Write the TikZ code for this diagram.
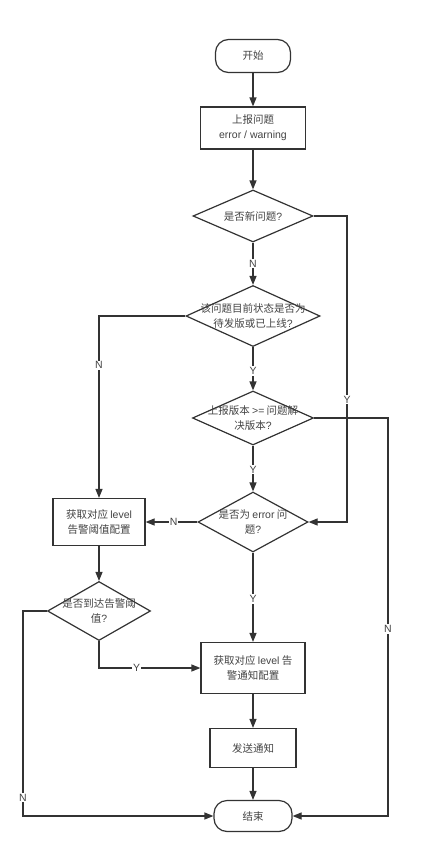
\documentclass[tikz,border=0pt]{standalone}
\usepackage{fontspec}
\newfontfamily\cjk{Noto Sans CJK SC}
\newfontfamily\lat{Liberation Sans}
\usetikzlibrary{shapes.geometric,arrows.meta}
\definecolor{ln}{HTML}{333333}
\definecolor{tx}{HTML}{444444}
\newcommand{\la}[1]{{\lat #1}}
\tikzset{
  base/.style={draw=ln, line width=1.2pt, text=tx, font=\cjk\fontsize{10.5}{15}\selectfont, align=center, inner sep=0pt},
  term/.style={base, rectangle, rounded corners=13pt},
  proc/.style={base, rectangle},
  dec/.style={base, diamond},
  arr/.style={draw=ln, line width=1.2pt, -{Triangle[length=9pt,width=7pt]}},
  lab/.style={fill=white, text=tx, font=\lat\fontsize{10.5}{12}\selectfont, inner sep=1pt},
  dtext/.style={text=tx, font=\cjk\fontsize{10.5}{15}\selectfont, align=center}
}
\begin{document}
\begin{tikzpicture}[x=1pt,y=-1pt]
\useasboundingbox[fill=white] (0,0) rectangle (424,846);
\node[term, minimum width=75pt, minimum height=33pt] (start) at (253,56) {开始};
\node[proc, minimum width=105pt, minimum height=42pt] (report) at (253,128) {上报问题\\\la{error / warning}};
\node[dec, minimum width=120pt, minimum height=52pt, label={[dtext]center:是否新问题\la{?}}] (q1) at (253,216) {};
\node[dec, minimum width=134pt, minimum height=61pt, label={[dtext]center:该问题目前状态是否为\\待发版或已上线\la{?}}] (q2) at (253,316) {};
\node[dec, minimum width=121pt, minimum height=54pt, label={[dtext]center:上报版本 \la{>=} 问题解\\决版本\la{?}}] (q3) at (253,418) {};
\node[dec, minimum width=110pt, minimum height=60pt, label={[dtext]center:是否为 \la{error} 问\\题\la{?}}] (q4) at (253,522) {};
\node[proc, minimum width=92pt, minimum height=47pt] (thr) at (99,522) {获取对应 \la{level}\\告警阈值配置};
\node[dec, minimum width=103pt, minimum height=59pt, label={[dtext]center:是否到达告警阈\\值\la{?}}] (q5) at (99,611) {};
\node[proc, minimum width=104pt, minimum height=51pt] (notif) at (253,668) {获取对应 \la{level} 告\\警通知配置};
\node[proc, minimum width=86pt, minimum height=39pt] (send) at (253,748) {发送通知};
\node[term, minimum width=78pt, minimum height=31pt] (end) at (253,816) {结束};

\draw[arr] (start) -- (report);
\draw[arr] (report) -- (q1);
\draw[arr] (q1.south) -- node[lab]{N} (q2.north);
\draw[arr] (q1.east) -- (347,216) -- node[lab,pos=0.6]{Y} (347,522) -- (q4.east);
\draw[arr] (q2.south) -- node[lab,pos=0.55]{Y} (q3.north);
\draw[arr] (q2.west) -- (99,316) -- node[lab,pos=0.27]{N} (thr.north);
\draw[arr] (q3.east) -- (388,418) -- node[lab,pos=0.53]{N} (388,816) -- (end.east);
\draw[arr] (q3.south) -- node[lab,pos=0.52]{Y} (q4.north);
\draw[arr] (q4.west) -- node[lab,pos=0.46]{N} (thr.east);
\draw[arr] (q4.south) -- node[lab,pos=0.52]{Y} (notif.north);
\draw[arr] (thr.south) -- (q5.north);
\draw[arr] (q5.south) -- (99,668) -- node[lab,pos=0.37]{Y} (notif.west);
\draw[arr] (q5.west) -- (23,611) -- node[lab,pos=0.91]{N} (23,816) -- (end.west);
\draw[arr] (notif) -- (send);
\draw[arr] (send) -- (end);
\end{tikzpicture}
\end{document}
